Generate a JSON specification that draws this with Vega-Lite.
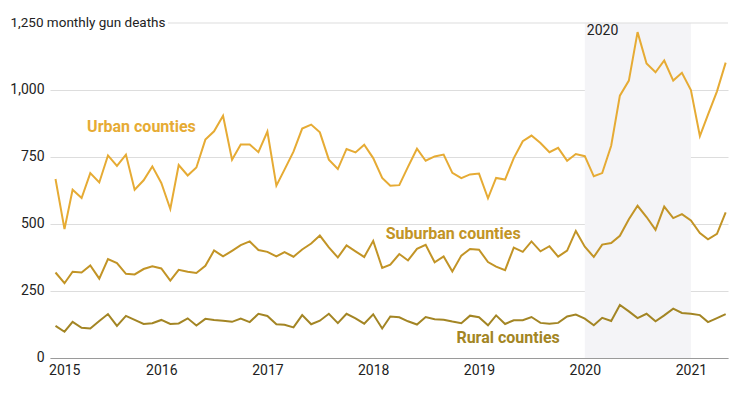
{
  "$schema": "https://vega.github.io/schema/vega-lite/v6.json",
  "width": 678,
  "height": 335,
  "autosize": "none",
  "padding": {"left": 50, "top": 23, "right": 19, "bottom": 36},
  "background": "white",
  "config": {
    "view": {"stroke": null},
    "font": "Roboto",
    "axis": {"labelFont": "Roboto", "labelColor": "#222222", "labelFontSize": 14, "title": null}
  },
  "datasets": {
    "deaths": [
      {"d":"2015-01-01","Urban":668,"Suburban":319,"Rural":120},
      {"d":"2015-02-01","Urban":481,"Suburban":279,"Rural":98},
      {"d":"2015-03-01","Urban":628,"Suburban":322,"Rural":135},
      {"d":"2015-04-01","Urban":597,"Suburban":319,"Rural":113},
      {"d":"2015-05-01","Urban":690,"Suburban":345,"Rural":110},
      {"d":"2015-06-01","Urban":655,"Suburban":296,"Rural":138},
      {"d":"2015-07-01","Urban":756,"Suburban":369,"Rural":164},
      {"d":"2015-08-01","Urban":717,"Suburban":354,"Rural":120},
      {"d":"2015-09-01","Urban":759,"Suburban":314,"Rural":157},
      {"d":"2015-10-01","Urban":628,"Suburban":312,"Rural":142},
      {"d":"2015-11-01","Urban":663,"Suburban":332,"Rural":127},
      {"d":"2015-12-01","Urban":715,"Suburban":342,"Rural":130},
      {"d":"2016-01-01","Urban":653,"Suburban":334,"Rural":142},
      {"d":"2016-02-01","Urban":556,"Suburban":289,"Rural":127},
      {"d":"2016-03-01","Urban":720,"Suburban":329,"Rural":129},
      {"d":"2016-04-01","Urban":681,"Suburban":322,"Rural":148},
      {"d":"2016-05-01","Urban":711,"Suburban":317,"Rural":121},
      {"d":"2016-06-01","Urban":815,"Suburban":344,"Rural":146},
      {"d":"2016-07-01","Urban":846,"Suburban":401,"Rural":142},
      {"d":"2016-08-01","Urban":904,"Suburban":379,"Rural":139},
      {"d":"2016-09-01","Urban":740,"Suburban":400,"Rural":135},
      {"d":"2016-10-01","Urban":797,"Suburban":421,"Rural":147},
      {"d":"2016-11-01","Urban":797,"Suburban":435,"Rural":134},
      {"d":"2016-12-01","Urban":768,"Suburban":403,"Rural":165},
      {"d":"2017-01-01","Urban":845,"Suburban":396,"Rural":157},
      {"d":"2017-02-01","Urban":643,"Suburban":379,"Rural":126},
      {"d":"2017-03-01","Urban":703,"Suburban":395,"Rural":124},
      {"d":"2017-04-01","Urban":770,"Suburban":378,"Rural":114},
      {"d":"2017-05-01","Urban":856,"Suburban":405,"Rural":160},
      {"d":"2017-06-01","Urban":871,"Suburban":427,"Rural":126},
      {"d":"2017-07-01","Urban":842,"Suburban":457,"Rural":139},
      {"d":"2017-08-01","Urban":740,"Suburban":413,"Rural":165},
      {"d":"2017-09-01","Urban":705,"Suburban":375,"Rural":130},
      {"d":"2017-10-01","Urban":780,"Suburban":420,"Rural":165},
      {"d":"2017-11-01","Urban":767,"Suburban":398,"Rural":148},
      {"d":"2017-12-01","Urban":796,"Suburban":377,"Rural":128},
      {"d":"2018-01-01","Urban":746,"Suburban":437,"Rural":163},
      {"d":"2018-02-01","Urban":672,"Suburban":336,"Rural":110},
      {"d":"2018-03-01","Urban":643,"Suburban":348,"Rural":155},
      {"d":"2018-04-01","Urban":645,"Suburban":388,"Rural":152},
      {"d":"2018-05-01","Urban":713,"Suburban":364,"Rural":137},
      {"d":"2018-06-01","Urban":781,"Suburban":407,"Rural":125},
      {"d":"2018-07-01","Urban":736,"Suburban":422,"Rural":153},
      {"d":"2018-08-01","Urban":752,"Suburban":357,"Rural":145},
      {"d":"2018-09-01","Urban":759,"Suburban":379,"Rural":143},
      {"d":"2018-10-01","Urban":691,"Suburban":323,"Rural":136},
      {"d":"2018-11-01","Urban":671,"Suburban":382,"Rural":130},
      {"d":"2018-12-01","Urban":685,"Suburban":407,"Rural":158},
      {"d":"2019-01-01","Urban":688,"Suburban":404,"Rural":152},
      {"d":"2019-02-01","Urban":596,"Suburban":358,"Rural":122},
      {"d":"2019-03-01","Urban":672,"Suburban":341,"Rural":159},
      {"d":"2019-04-01","Urban":666,"Suburban":328,"Rural":127},
      {"d":"2019-05-01","Urban":746,"Suburban":412,"Rural":141},
      {"d":"2019-06-01","Urban":809,"Suburban":396,"Rural":141},
      {"d":"2019-07-01","Urban":830,"Suburban":435,"Rural":153},
      {"d":"2019-08-01","Urban":802,"Suburban":398,"Rural":131},
      {"d":"2019-09-01","Urban":768,"Suburban":417,"Rural":128},
      {"d":"2019-10-01","Urban":784,"Suburban":378,"Rural":131},
      {"d":"2019-11-01","Urban":736,"Suburban":401,"Rural":155},
      {"d":"2019-12-01","Urban":761,"Suburban":474,"Rural":162},
      {"d":"2020-01-01","Urban":753,"Suburban":415,"Rural":147},
      {"d":"2020-02-01","Urban":678,"Suburban":377,"Rural":122},
      {"d":"2020-03-01","Urban":690,"Suburban":423,"Rural":150},
      {"d":"2020-04-01","Urban":792,"Suburban":429,"Rural":138},
      {"d":"2020-05-01","Urban":979,"Suburban":456,"Rural":198},
      {"d":"2020-06-01","Urban":1035,"Suburban":518,"Rural":174},
      {"d":"2020-07-01","Urban":1216,"Suburban":568,"Rural":149},
      {"d":"2020-08-01","Urban":1099,"Suburban":526,"Rural":165},
      {"d":"2020-09-01","Urban":1066,"Suburban":478,"Rural":137},
      {"d":"2020-10-01","Urban":1110,"Suburban":565,"Rural":159},
      {"d":"2020-11-01","Urban":1035,"Suburban":522,"Rural":184},
      {"d":"2020-12-01","Urban":1064,"Suburban":537,"Rural":168},
      {"d":"2021-01-01","Urban":1000,"Suburban":513,"Rural":165},
      {"d":"2021-02-01","Urban":828,"Suburban":466,"Rural":160},
      {"d":"2021-03-01","Urban":908,"Suburban":443,"Rural":134},
      {"d":"2021-04-01","Urban":995,"Suburban":463,"Rural":149},
      {"d":"2021-05-01","Urban":1102,"Suburban":543,"Rural":164}
    ]
  },
  "layer": [
    {
      "data": {"values": [{"s": "2020-01-01", "e": "2021-01-01", "top": 1250, "bot": 0}]},
      "mark": {"type": "rect", "color": "#f4f4f7"},
      "encoding": {
        "x": {
          "field": "s", "type": "temporal",
          "scale": {"domain": ["2014-12-13", "2021-05-09"]},
          "axis": {
            "format": "%Y", "tickCount": {"interval": "year", "step": 1},
            "ticks": false, "grid": false, "domainColor": "#9a9a9a", "domainWidth": 1,
            "labelPadding": 5, "labelFlush": 10, "labelFlushOffset": 7
          }
        },
        "x2": {"field": "e"},
        "y": {
          "field": "top", "type": "quantitative",
          "scale": {"domain": [0, 1250], "nice": false},
          "axis": {
            "values": [0, 250, 500, 750, 1000, 1250],
            "labelExpr": "datum.value == 1250 ? '1,250 monthly gun deaths' : format(datum.value, ',')",
            "domain": false, "ticks": false,
            "gridColor": "#dddddd",
            "gridOpacity": {"condition": {"test": "datum.value == 1250", "value": 0}, "value": 1},
            "labelAlign": {"condition": {"test": "datum.value == 1250", "value": "left"}, "value": "right"},
            "labelPadding": {"condition": {"test": "datum.value == 1250", "value": 40}, "value": 6},
            "labelFontSize": {"condition": {"test": "datum.value == 1250", "value": 13.5}, "value": 14},
            "labelBaseline": "middle",
            "labelOffset": -1
          }
        },
        "y2": {"field": "bot"}
      }
    },
    {
      "data": {"values": [{"a": "2016-01-24", "b": "2021-05-09", "v": 1250}]},
      "mark": {"type": "rule", "color": "#dddddd", "strokeWidth": 1},
      "encoding": {
        "x": {"field": "a", "type": "temporal", "scale": {"domain": ["2014-12-13", "2021-05-09"]}},
        "x2": {"field": "b"},
        "y": {"field": "v", "type": "quantitative", "scale": {"domain": [0, 1250], "nice": false}}
      }
    },
    {
      "data": {"name": "deaths"},
      "transform": [{"fold": ["Urban", "Suburban", "Rural"], "as": ["series", "value"]}],
      "mark": {"type": "line", "strokeWidth": 2, "strokeJoin": "miter", "strokeMiterLimit": 4},
      "encoding": {
        "x": {"field": "d", "type": "temporal", "scale": {"domain": ["2014-12-13", "2021-05-09"]}},
        "y": {"field": "value", "type": "quantitative", "scale": {"domain": [0, 1250], "nice": false}},
        "color": {
          "field": "series", "type": "nominal",
          "scale": {"domain": ["Urban", "Suburban", "Rural"], "range": ["#e6ab34", "#c29426", "#a38524"]},
          "legend": null
        },
        "detail": {"field": "series"}
      }
    },
    {
      "data": {"values": [
        {"d": "2015-04-20", "v": 863, "t": "Urban counties", "k": "Urban"},
        {"d": "2018-02-13", "v": 462, "t": "Suburban counties", "k": "Suburban"},
        {"d": "2018-10-15", "v": 76, "t": "Rural counties", "k": "Rural"}
      ]},
      "mark": {"type": "text", "align": "left", "baseline": "middle", "fontWeight": "bold", "fontSize": 16, "font": "Roboto"},
      "encoding": {
        "x": {"field": "d", "type": "temporal", "scale": {"domain": ["2014-12-13", "2021-05-09"]}},
        "y": {"field": "v", "type": "quantitative", "scale": {"domain": [0, 1250], "nice": false}},
        "text": {"field": "t"},
        "color": {"field": "k", "type": "nominal", "scale": {"domain": ["Urban", "Suburban", "Rural"], "range": ["#e6ab34", "#c29426", "#a38524"]}, "legend": null}
      }
    },
    {
      "data": {"values": [{"d": "2020-01-01", "v": 1219, "t": "2020"}]},
      "mark": {"type": "text", "align": "left", "baseline": "middle", "dx": 2, "fontSize": 14, "font": "Roboto", "color": "#222222"},
      "encoding": {
        "x": {"field": "d", "type": "temporal", "scale": {"domain": ["2014-12-13", "2021-05-09"]}},
        "y": {"field": "v", "type": "quantitative", "scale": {"domain": [0, 1250], "nice": false}},
        "text": {"field": "t"}
      }
    }
  ]
}
